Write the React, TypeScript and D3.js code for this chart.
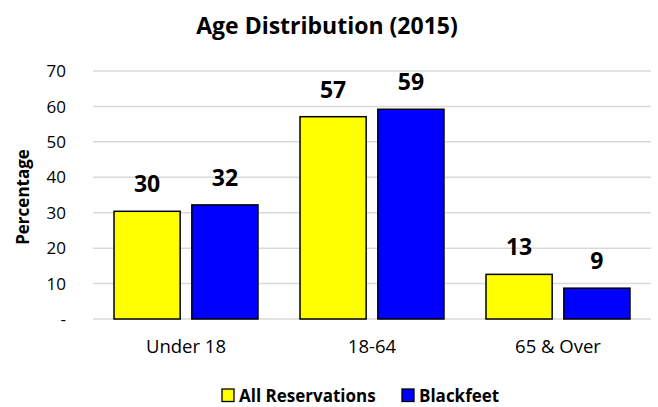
import React from "react";
import * as d3 from "d3";

const categories = ["Under 18", "18-64", "65 & Over"];
const seriesNames = ["All Reservations", "Blackfeet"];
const allReservations = [30.4, 57.1, 12.6];
const blackfeet = [32.2, 59.2, 8.7];
const yTicks = [0, 10, 20, 30, 40, 50, 60, 70];
const colors = ["#FFFF00", "#0000FF"];

const W = 658, H = 407;
const margin = { left: 93, right: 7, top: 71, bottom: 88 };
const FONT = "'Open Sans', sans-serif";

export default function App() {
  const x = d3.scaleBand().domain(categories).range([margin.left, W - margin.right]).paddingInner(0.226).paddingOuter(0.113);
  const x1 = d3.scaleBand().domain(seriesNames).range([0, x.bandwidth()]).paddingInner(0.15);
  const y = d3.scaleLinear().domain([0, 70]).range([H - margin.bottom, margin.top]);
  const series = [allReservations, blackfeet];
  const plotL = margin.left, plotR = W - margin.right;
  return (
    <svg width={W} height={H} style={{ position: "absolute", left: 0, top: 0, background: "#fff" }} fontFamily={FONT}>
      <text x={327} y={34} textAnchor="middle" fontSize={23} fontWeight="bold">Age Distribution (2015)</text>
      {yTicks.map((t) => (
        <g key={t}>
          <line x1={plotL} x2={plotR} y1={y(t)} y2={y(t)} stroke="#d9d9d9" strokeWidth={1.5} />
          <text x={66} y={y(t)} dy="0.36em" textAnchor="end" fontSize={17}>{t === 0 ? "-" : t}</text>
        </g>
      ))}
      <text transform={`translate(29,${(y(0) + y(70)) / 2 + 2}) rotate(-90)`} textAnchor="middle" fontSize={17} fontWeight="bold">Percentage</text>
      {categories.map((c, i) => (
        <g key={c}>
          {series.map((s, j) => {
            const bx = (x(c) as number) + (x1(seriesNames[j]) as number);
            return (
              <g key={j}>
                <rect x={bx} y={y(s[i])} width={x1.bandwidth()} height={y(0) - y(s[i])} fill={colors[j]} stroke="#000" strokeWidth={1.5} />
                <text x={bx + x1.bandwidth() / 2} y={y(s[i]) - 19} textAnchor="middle" fontSize={23} fontWeight="bold">{Math.round(s[i])}</text>
              </g>
            );
          })}
          <text x={(x(c) as number) + x.bandwidth() / 2} y={353} textAnchor="middle" fontSize={18.5}>{c}</text>
        </g>
      ))}
      {seriesNames.map((n, j) => {
        const lx = j === 0 ? 222 : 402;
        return (
          <g key={n}>
            <rect x={lx} y={389} width={12} height={12.5} fill={colors[j]} stroke="#000" strokeWidth={1.3} />
            <text x={lx + 17} y={401.5} fontSize={17} fontWeight="bold">{n}</text>
          </g>
        );
      })}
    </svg>
  );
}
